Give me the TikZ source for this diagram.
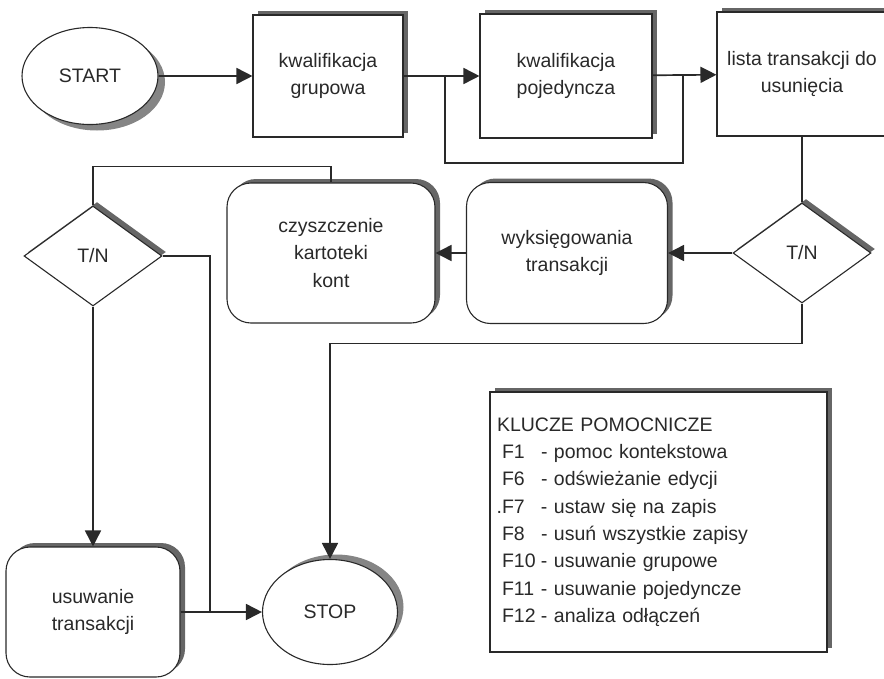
\documentclass[tikz,border=0pt]{standalone}
\usepackage{fontspec}
\setmainfont{Liberation Sans}
\usetikzlibrary{arrows.meta,positioning,shapes.geometric,shadows}
\definecolor{inkgray}{rgb}{0.16,0.16,0.16}
\definecolor{shadegray}{rgb}{0.40,0.40,0.40}

\begin{document}
\begin{tikzpicture}[x=1pt, y=-1pt,
  font=\fontsize{19.5}{27.5}\selectfont, text=inkgray,
  box/.style={draw=inkgray, line width=1.1pt, fill=white, align=center, inner sep=0pt,
  general shadow={fill=shadegray, shadow xshift=5pt, shadow yshift=4pt}},
  rbox/.style={box, rounded corners=24pt},
  term/.style={ellipse, draw=inkgray, line width=1.1pt, fill=white, inner sep=0pt},
  dec/.style={diamond, draw=inkgray, line width=1.1pt, fill=white, inner sep=0pt,
  minimum width=138pt, minimum height=100pt,
  general shadow={fill=shadegray, shadow xshift=4pt, shadow yshift=4pt}},
  arrow/.style={-{Triangle[length=16pt,width=16pt]}, line width=1.7pt, draw=inkgray},
  line/.style={line width=1.7pt, draw=inkgray}
]
\useasboundingbox (0,0) rectangle (884,678);

% top row
\node[term, minimum width=136pt, minimum height=97pt,
  general shadow={fill=shadegray!80, shadow xshift=7pt, shadow yshift=-6pt}] (start) at (90,76) {START};
\node[box, minimum width=150pt, minimum height=122pt] (grupowa) at (328,76) {kwalifikacja\\grupowa};
\node[box, minimum width=172pt, minimum height=124pt] (pojed) at (566,76) {kwalifikacja\\pojedyncza};
\node[box, minimum width=170pt, minimum height=124pt] (lista) at (802,74) {lista transakcji do\\usunięcia};

% middle row
\node[dec] (decR) at (802,253) {T/N};
\node[rbox, minimum width=201pt, minimum height=141pt] (wyks) at (567,253) {wyksięgowania\\transakcji};
\node[rbox, minimum width=208pt, minimum height=140pt] (czysz) at (331,253) {czyszczenie\\kartoteki\\kont};
\node[dec] (decL) at (93,256) {T/N};

% bottom row
\node[rbox, minimum width=174pt, minimum height=130pt] (usuw) at (93,612) {usuwanie\\transakcji};
\node[term, minimum width=135pt, minimum height=105pt,
  general shadow={fill=shadegray!80, shadow xshift=6pt, shadow yshift=5pt}] (stop) at (330,612) {STOP};

\node[box, minimum width=337pt, minimum height=260pt, text width=323pt, align=left,
  inner xsep=7pt, font=\fontsize{19.5}{27.3}\selectfont] (keys) at (658.5,522) {%
  KLUCZE POMOCNICZE\\
  \hspace*{5pt}\makebox[2em][l]{F1}- pomoc kontekstowa\\
  \hspace*{5pt}\makebox[2em][l]{F6}- odświeżanie edycji\\
  \hspace*{5pt}\makebox[2em][l]{\llap{.}F7}- ustaw się na zapis\\
  \hspace*{5pt}\makebox[2em][l]{F8}- usuń wszystkie zapisy\\
  \hspace*{5pt}\makebox[2em][l]{F10}- usuwanie grupowe\\
  \hspace*{5pt}\makebox[2em][l]{F11}- usuwanie pojedyncze\\
  \hspace*{5pt}\makebox[2em][l]{F12}- analiza odłączeń};

\coordinate (loopR) at (683,76);
\coordinate (loopL) at (445,76);
\coordinate (join) at (210,612);

\draw[arrow] (start) -- (grupowa);
\draw[arrow] (grupowa) -- (pojed);
\draw[arrow] (pojed) -- (lista);
\draw[line] (loopR) -- ++(0,87) -| (loopL);
\draw[line] (lista) -- (decR);
\draw[arrow] (decR) -- (wyks);
\draw[arrow] (wyks) -- (czysz);
\draw[arrow] (decR.south) -- ++(0,40) -| (stop.north);
\draw[line] (czysz.north) -- ++(0,-16) -| (decL.north);
\draw[arrow] (decL) -- (usuw);
\draw[line] (decL.east) -| (join);
\draw[arrow] (usuw) -- (stop);
\end{tikzpicture}
\end{document}
